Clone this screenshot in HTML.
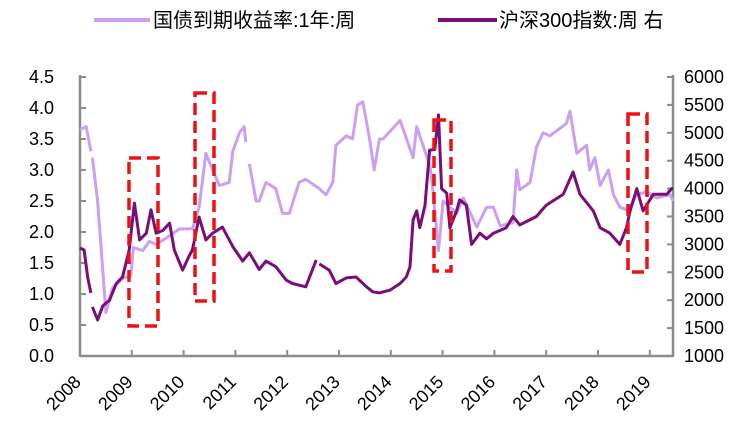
<!DOCTYPE html>
<html><head><meta charset="utf-8"><style>
body{margin:0;background:#fff;}
svg text{font-family:"Liberation Sans","Noto Sans CJK SC",sans-serif;fill:#000;}
</style></head><body>
<svg id="chart" width="753" height="430" viewBox="0 0 753 430" xmlns="http://www.w3.org/2000/svg">
<g>
<g>
<line x1="94" y1="20" x2="150" y2="20" stroke="#C9A0F2" stroke-width="4"/>
<text x="153" y="27" font-size="20">国债到期收益率:1年:周</text></g>
<g>
<line x1="438" y1="20" x2="497" y2="20" stroke="#780E78" stroke-width="4"/>
<text x="499" y="27" font-size="20">沪深300指数:周 右</text></g>
</g>
<g id="axes"></g>
<g id="series"></g>
<g id="boxes"></g>
</svg>
<script>
const yearTicks=[2008,2009,2010,2011,2012,2013,2014,2015,2016,2017,2018,2019];
const leftTicks=[0,0.5,1,1.5,2,2.5,3,3.5,4,4.5];
const rightTicks=[1000,1500,2000,2500,3000,3500,4000,4500,5000,5500,6000];
const yieldT=[2008.00,2008.12,2008.21,null,2008.24,2008.34,2008.50,2008.63,2008.82,2008.98,2009.03,2009.21,2009.34,2009.47,2009.66,2009.92,2010.17,2010.30,2010.43,2010.56,2010.69,2010.88,2010.95,2011.08,2011.17,2011.20,null,2011.27,2011.40,2011.46,2011.59,2011.78,2011.91,2012.04,2012.23,2012.36,2012.62,2012.75,2012.88,2012.94,2013.14,2013.26,2013.36,2013.46,2013.59,2013.68,2013.78,2013.85,2014.18,2014.43,2014.50,2014.76,2014.82,2014.92,2015.01,2015.27,2015.40,2015.66,2015.85,2015.98,2016.11,2016.36,2016.43,2016.49,2016.69,2016.81,2016.94,2017.07,2017.39,2017.46,2017.59,2017.78,2017.84,2017.94,2018.04,2018.20,2018.30,2018.42,2018.58,2018.75,2018.94,2019.13,2019.39,2019.45];
const yieldV=[3.65,3.7,3.3,null,3.2,2.5,0.7,1.1,1.25,1.3,1.75,1.7,1.85,1.8,1.9,2.05,2.05,2.4,3.27,3.0,2.75,2.8,3.3,3.6,3.7,3.45,null,3.1,2.5,2.5,2.8,2.7,2.3,2.3,2.8,2.85,2.7,2.6,2.8,3.4,3.55,3.5,4.05,4.1,3.5,3.0,3.5,3.5,3.8,3.2,3.7,3.05,2.6,1.7,2.5,2.3,2.55,2.08,2.4,2.4,2.1,2.15,3.0,2.68,2.8,3.37,3.6,3.55,3.75,3.95,3.27,3.4,3.0,3.2,2.75,3.0,2.6,2.4,2.35,2.6,2.65,2.55,2.6,2.5];
const csiT=[2008.00,2008.08,2008.15,2008.21,null,2008.24,2008.34,2008.44,2008.57,2008.70,2008.82,2008.95,2009.05,2009.15,2009.28,2009.37,2009.47,2009.60,2009.73,2009.82,2009.98,2010.11,2010.17,2010.30,2010.43,2010.56,2010.75,2010.95,2011.14,2011.27,2011.46,2011.59,2011.78,2011.98,2012.10,2012.36,2012.56,null,2012.62,2012.81,2012.94,2013.14,2013.33,2013.52,2013.65,2013.78,2013.98,2014.18,2014.30,2014.37,2014.43,2014.50,2014.56,2014.66,2014.75,2014.85,2014.92,2014.98,2015.08,2015.14,2015.27,2015.33,2015.46,2015.56,2015.72,2015.85,2015.98,2016.23,2016.36,2016.49,2016.81,2017.00,2017.33,2017.52,2017.65,2017.91,2018.04,2018.23,2018.42,2018.55,2018.62,2018.75,2018.87,2019.07,2019.33,2019.42,2019.45];
const csiV=[2935,2900,2400,2130,null,1880,1645,1900,2000,2300,2415,2900,3740,3080,3200,3620,3200,3250,3380,2900,2540,2800,2900,3490,3080,3200,3310,2960,2700,2850,2550,2700,2600,2360,2300,2240,2720,null,2650,2540,2300,2400,2415,2250,2150,2130,2180,2300,2415,2600,3440,3600,3300,3700,4690,4700,5320,4000,3920,3300,3600,3800,3700,3000,3200,3100,3200,3300,3500,3350,3500,3700,3900,4300,3900,3600,3300,3200,3000,3300,3600,4000,3600,3900,3900,4000,4000];
const NS='http://www.w3.org/2000/svg';
const X0=80,X1=673,Y0=356,Y1=77;
const tMin=2008,tMax=2008+(X1-X0)/51.8;
const xs=t=>X0+(t-tMin)/(tMax-tMin)*(X1-X0);
const yl=v=>Y0-v/4.5*(Y0-Y1);
const yr=v=>Y0-(v-1000)/5000*(Y0-Y1);
function mk(tag,attrs,parent){const e=document.createElementNS(NS,tag);for(const k in attrs)e.setAttribute(k,attrs[k]);parent.appendChild(e);return e;}
const axes=document.getElementById('axes');
const ax='#8C8C8C';
let e=mk('line',{x1:X0,y1:Y1-2,x2:X0,y2:Y0+1,stroke:ax,'stroke-width':2.5},axes);


e=mk('line',{x1:X1,y1:Y1-2,x2:X1,y2:Y0+1,stroke:ax,'stroke-width':2.5},axes);


e=mk('line',{x1:X0,y1:Y0,x2:X1,y2:Y0,stroke:ax,'stroke-width':2.5},axes);


leftTicks.forEach(v=>{const y=yl(v);
mk('line',{x1:X0,y1:y,x2:X0+6,y2:y,stroke:ax,'stroke-width':2},axes);
const t=mk('text',{x:54,y:y+6,'font-size':18,'text-anchor':'end'},axes);t.textContent=v.toFixed(1);

});
rightTicks.forEach(v=>{const y=yr(v);
mk('line',{x1:X1-6,y1:y,x2:X1,y2:y,stroke:ax,'stroke-width':2},axes);
const t=mk('text',{x:684,y:y+6,'font-size':18},axes);t.textContent=v;

});
yearTicks.forEach(yv=>{const x=xs(yv);
if(yv>2008)mk('line',{x1:x,y1:Y0-6,x2:x,y2:Y0,stroke:ax,'stroke-width':2},axes);
const px=x+2,py=Y0+27;
const t=mk('text',{x:px,y:py,'font-size':18,'text-anchor':'end',transform:'rotate(-45 '+px+' '+py+')'},axes);t.textContent=yv;

});
function pathFrom(T,V,ys){let d='',pen=false;for(let i=0;i<T.length;i++){if(T[i]===null||V[i]===null){pen=false;continue;}d+=(pen?'L':'M')+xs(T[i]).toFixed(1)+','+ys(V[i]).toFixed(1);pen=true;}return d;}
const S=document.getElementById('series');
e=mk('path',{d:pathFrom(yieldT,yieldV,yl),fill:'none',stroke:'#C9A0F2','stroke-width':3,'stroke-linejoin':'round'},S);


e=mk('path',{d:pathFrom(csiT,csiV,yr),fill:'none',stroke:'#780E78','stroke-width':3,'stroke-linejoin':'round'},S);


const B=document.getElementById('boxes');
[[129,158,158,326],[195,214,93,301],[434,451,120,271],[628,647,114,272]].forEach(b=>{
const r=mk('rect',{x:b[0],y:b[2],width:b[1]-b[0],height:b[3]-b[2],fill:'none',stroke:'#EE1111','stroke-width':3.5,'stroke-dasharray':'12 6'},B);

});
</script>
</body></html>
